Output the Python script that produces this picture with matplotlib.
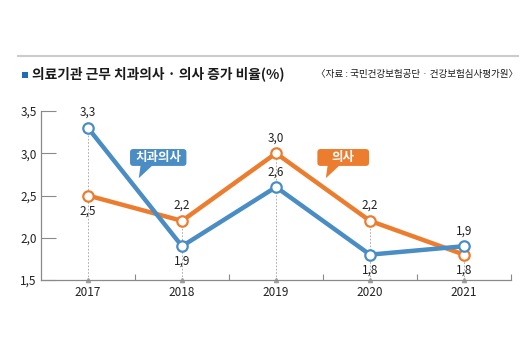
import matplotlib
matplotlib.use("Agg")
import matplotlib.pyplot as plt
from matplotlib.patches import Polygon, Rectangle, FancyBboxPatch
from matplotlib.lines import Line2D

plt.rcParams['font.family'] = ['Liberation Sans Narrow', 'Noto Sans CJK KR', 'DejaVu Sans']

years = ['2017', '2018', '2019', '2020', '2021']
dentist = [3.3, 1.9, 2.6, 1.8, 1.9]   # 치과의사
doctor = [2.5, 2.2, 3.0, 2.2, 1.8]    # 의사
yticks = [1.5, 2.0, 2.5, 3.0, 3.5]

BLUE = '#4a8dc5'
ORANGE = '#ec7d2f'
GRAY = '#8a8a8a'

fig = plt.figure(figsize=(5.23, 3.49), dpi=100)
ax = fig.add_axes([41 / 523, 1 - 280 / 349, 470 / 523, 169 / 349])
x = list(range(len(years)))

# dashed guides from the upper point down to the axis
for i in x:
    top = max(dentist[i], doctor[i])
    ax.plot([i, i], [1.5, top], ls=(0, (2, 2)), color='#a0a0a0', lw=0.6, zorder=1)
    ax.plot(i, 1.5, marker='^', ms=3, color='#a0a0a0', clip_on=False, zorder=2)

ax.plot(x, doctor, color=ORANGE, lw=3.2, solid_joinstyle='miter', zorder=3)
ax.plot(x, dentist, color=BLUE, lw=3.2, solid_joinstyle='miter', zorder=4)
ax.plot(x, doctor, ls='none', marker='o', ms=7.5, mfc='white', mec=ORANGE, mew=1.6, zorder=5)
ax.plot(x, dentist, ls='none', marker='o', ms=7.5, mfc='white', mec=BLUE, mew=1.6, zorder=6)

def fmt(v):
    return f'{v:.1f}'.replace('.', ',')

# value labels: above or below the point
dentist_pos = ['up', 'down', 'up', 'down', 'up']
doctor_pos = ['down', 'up', 'up', 'up', 'down']
for series, pos in ((dentist, dentist_pos), (doctor, doctor_pos)):
    for i, (v, p) in enumerate(zip(series, pos)):
        dy = 11 if p == 'up' else -11
        ax.annotate(fmt(v), (i, v), xytext=(0, dy), textcoords='offset points',
                    ha='center', va='center', fontsize=8.5, color='#222222')

ax.set_xlim(-0.5, 4.5)
ax.set_ylim(1.5, 3.5)
ax.set_xticks(x)
ax.set_xticklabels(years)
ax.set_xticks([0.5, 1.5, 2.5, 3.5, 4.5], minor=True)
ax.tick_params(axis='x', which='major', length=0, pad=4, labelsize=8.5, labelcolor='#222222')
ax.tick_params(axis='x', which='minor', direction='in', length=4, color=GRAY, width=0.8)
ax.set_yticks(yticks)
ax.set_yticklabels([fmt(v) for v in yticks])
ax.tick_params(axis='y', direction='in', length=11, color=GRAY, width=0.8, pad=3,
               labelsize=8.5, labelcolor='#222222')
for s in ('top', 'right'):
    ax.spines[s].set_visible(False)
for s in ('left', 'bottom'):
    ax.spines[s].set_color(GRAY)
    ax.spines[s].set_linewidth(0.9)
ax.patch.set_alpha(0)

# speech-bubble series labels (box given as left, bottom, width, height in data units)
def bubble(box, text, color, tail):
    left, bottom, w, h = box
    ax.add_patch(FancyBboxPatch((left, bottom), w, h,
                                boxstyle='round,pad=0,rounding_size=0.035',
                                mutation_aspect=94 / 84.5, fc=color, ec='none', zorder=7))
    ax.add_patch(Polygon(tail, closed=True, fc=color, ec='none', zorder=7))
    ax.text(left + w / 2, bottom + h / 2, text, ha='center', va='center', fontsize=9,
            fontweight='bold', color='white', zorder=8)

bubble((0.447, 2.85, 0.6, 0.2), '치과의사', BLUE,
       [(0.56, 2.86), (0.69, 2.86), (0.54, 2.705)])
bubble((2.44, 2.85, 0.55, 0.2), '의사', ORANGE,
       [(2.55, 2.86), (2.68, 2.86), (2.53, 2.705)])

# header: rule, marker square, title and source
fig.add_artist(Line2D([18 / 523, 518 / 523], [1 - 56 / 349] * 2, color='#cccccc', lw=1.5))
fig.add_artist(Rectangle((22 / 523, 1 - 78 / 349), 6 / 523, 6 / 349, fc='#1f6db5', ec='none'))
fig.text(32 / 523, 1 - 74 / 349, '의료기관 근무 치과의사 · 의사 증가 비율(%)',
         ha='left', va='center', fontsize=9.9, fontweight='bold', color='#1a1a1a',
         family=['Noto Sans CJK KR', 'DejaVu Sans'])
fig.text(518 / 523, 1 - 74 / 349, '〈자료 : 국민건강보험공단 · 건강보험심사평가원〉',
         ha='right', va='center', fontsize=6.9, color='#1a1a1a',
         family=['Noto Sans CJK KR', 'DejaVu Sans'])

fig.savefig('out.png', dpi=100)
